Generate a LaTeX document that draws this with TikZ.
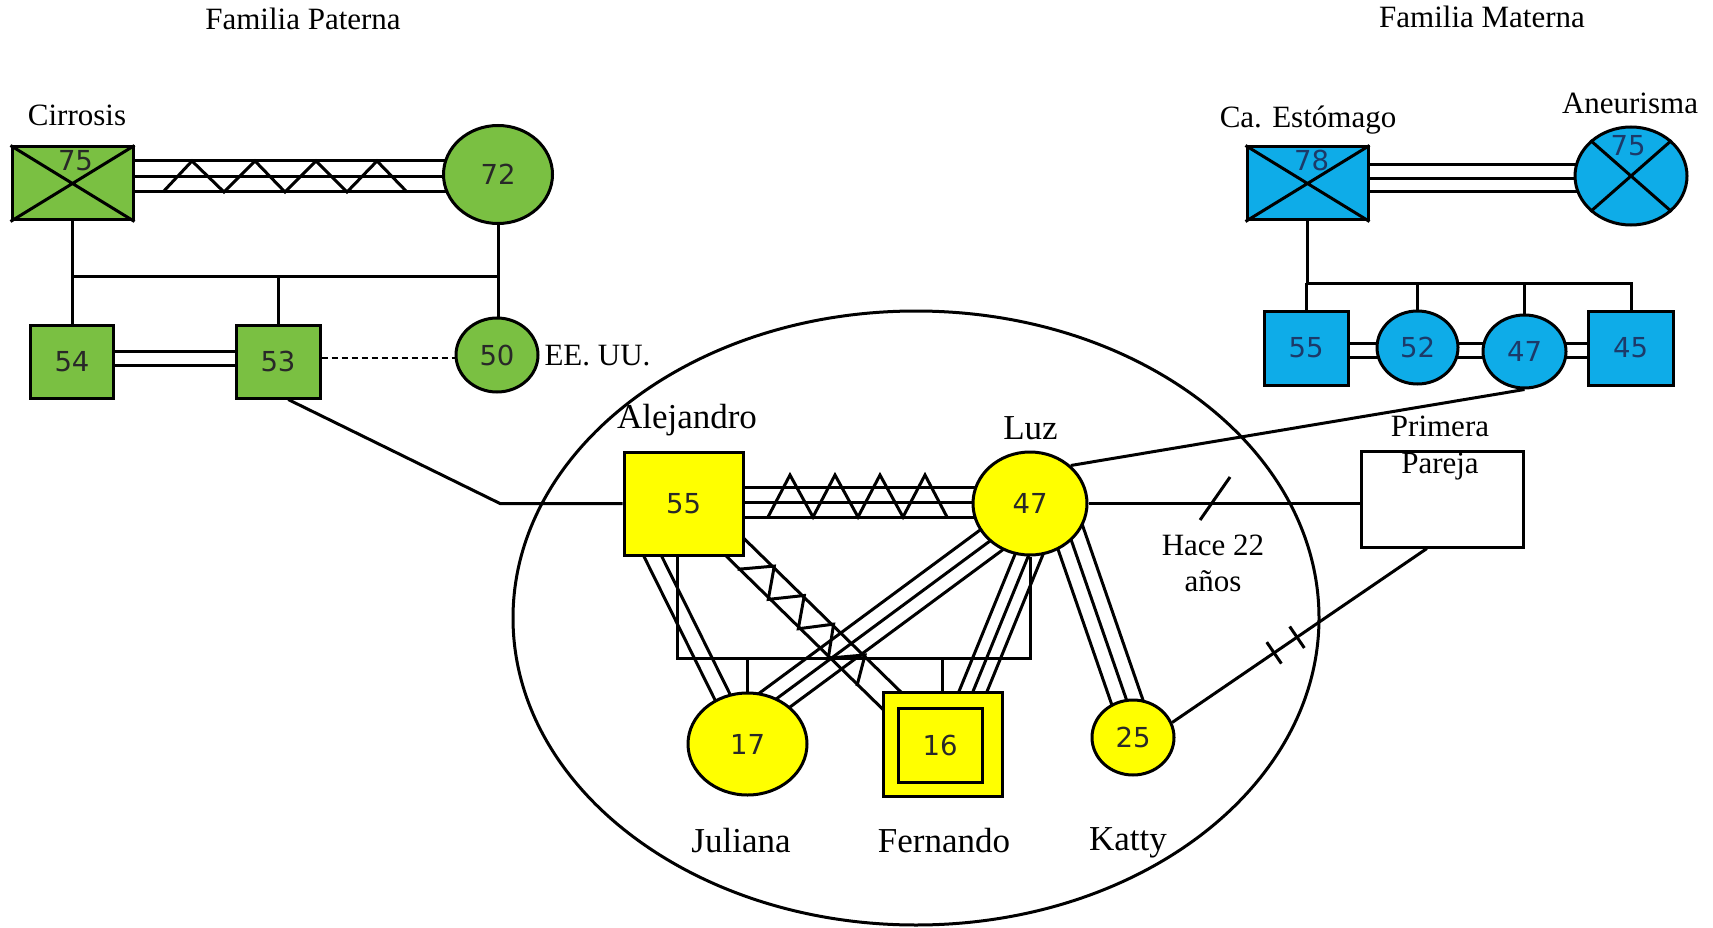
\documentclass[tikz,border=0pt]{standalone}
\usepackage{fontspec}
\setmainfont{Liberation Serif}
\newfontfamily\numfont{DejaVu Sans}
\usetikzlibrary{calc,shapes.geometric,backgrounds}

\definecolor{famgreen}{RGB}{122,192,66}
\definecolor{famblue}{RGB}{14,172,232}
\definecolor{famyellow}{RGB}{255,255,0}
\definecolor{numdark}{RGB}{40,40,40}
\definecolor{numblue}{RGB}{28,58,105}

% parallel relationship lines between two points; #2 = list of offsets (pt)
\newcommand\parlines[4][]{%
  \foreach \o in {#2}{%
    \draw[shorten <=-18pt, shorten >=-18pt, #1]
      ($(#3)!\o pt!90:(#4)$) -- ($(#4)!\o pt!-90:(#3)$);}}

\tikzset{
  box/.style={draw, rectangle, inner sep=0pt},
  oval/.style={draw, ellipse, inner sep=0pt},
  num/.style={font=\numfont\fontsize{27.5}{28}\selectfont, text=numdark},
  numb/.style={font=\numfont\fontsize{27.5}{28}\selectfont, text=numblue},
  lbl/.style={font=\fontsize{31}{31}\selectfont, inner sep=0pt},
  lblbig/.style={font=\fontsize{35}{35}\selectfont, inner sep=0pt},
  thindash/.style={line width=1.4pt, dash pattern=on 6pt off 4pt},
  link/.style={line width=3pt},
}

\begin{document}
\begin{tikzpicture}[x=1pt, y=-1pt, line width=3pt]
\useasboundingbox (0,0) rectangle (1713,928);

% ---------- titles ----------
\node[lbl, anchor=base] (tpat) at (303,29.5) {Familia Paterna};
\node[lbl, anchor=base] (tmat) at (1482,27.7) {Familia Materna};

% ---------- paternal family ----------
\node[box, fill=famgreen, minimum width=121pt, minimum height=73pt] (pgf) at (72.5,183.5) {};
\node[oval, fill=famgreen, minimum width=109pt, minimum height=98pt, num] (pgm) at (498,174.5) {72};
\node[box, fill=famgreen, minimum width=83pt, minimum height=73pt, num] (p54) at (72,361.5) {54};
\node[box, fill=famgreen, minimum width=84pt, minimum height=73pt, num] (p53) at (278,361.5) {53};
\node[oval, fill=famgreen, minimum width=82pt, minimum height=74pt, num] (p50) at (497,355) {50};
\draw (pgf.north west) -- (pgf.south east) (pgf.south west) -- (pgf.north east);
\node[num] (n75p) at ($(pgf.north)+(3,15)$) {75};
\node[lbl, anchor=base] (lcir) at (77,126) {Cirrosis};
\node[lbl, anchor=base west] (lus) at (543,365) {EE. UU.};

% ---------- maternal family ----------
\node[box, fill=famblue, minimum width=121pt, minimum height=73pt] (mgf) at (1307.5,183.5) {};
\node[oval, fill=famblue, minimum width=112pt, minimum height=98pt] (mgm) at (1631,176) {};
\node[box, fill=famblue, minimum width=84pt, minimum height=74pt, numb] (m55) at (1306,348) {55};
\node[oval, fill=famblue, minimum width=81pt, minimum height=73pt, numb] (m52) at (1417.5,347.5) {52};
\node[oval, fill=famblue, minimum width=83pt, minimum height=73pt, numb] (m47) at (1524.5,351.5) {47};
\node[box, fill=famblue, minimum width=85pt, minimum height=74pt, numb] (m45) at (1630.5,348) {45};
\draw (mgf.north west) -- (mgf.south east) (mgf.south west) -- (mgf.north east);
\draw (mgm.north west) -- (mgm.south east) (mgm.south west) -- (mgm.north east);
\node[numb] (n78) at ($(mgf.north)+(4,15)$) {78};
\node[numb] (n75m) at ($(mgm.north)+(-3,20)$) {75};
\node[lbl, anchor=base] (lest) at (1308,128) {Ca. Estómago};
\node[lbl, anchor=base] (lane) at (1630,114) {Aneurisma};

% ---------- nuclear family ----------
\node[draw, ellipse, inner sep=0pt, minimum width=806pt, minimum height=614pt] (nucleo) at (916,618) {};
\node[box, fill=famyellow, minimum width=119pt, minimum height=103pt, num] (alej) at (683.5,503.5) {55};
\node[oval, fill=famyellow, minimum width=114pt, minimum height=103pt, num] (luz) at (1030,503.5) {47};
\node[oval, fill=famyellow, minimum width=119pt, minimum height=102pt, num] (jul) at (747.5,744) {17};
\node[box, fill=famyellow, minimum width=119pt, minimum height=104pt] (fer) at (942.5,744) {};
\node[box, minimum width=84pt, minimum height=74pt, num] (ferin) at (940,745) {16};
\node[oval, fill=famyellow, minimum width=82pt, minimum height=75pt, num] (kat) at (1133,737.5) {25};
\node[box, fill=white, minimum width=162pt, minimum height=96pt] (pp) at (1442,499) {};

\node[lblbig, anchor=base] (lale) at (687,428) {Alejandro};
\node[lblbig, anchor=base] (lluz) at (1030.5,439) {Luz};
\node[lbl, anchor=base] (lpri) at (1440,436.5) {Primera};
\node[lbl, anchor=base] (lpar) at (1440,473) {Pareja};
\node[lbl, anchor=base] (lhace) at (1213,555) {Hace 22};
\node[lbl, anchor=base] (lanos) at (1213,591) {años};
\node[lblbig, anchor=base] (ljul) at (741,852) {Juliana};
\node[lblbig, anchor=base] (lfer) at (944,852) {Fernando};
\node[lblbig, anchor=base] (lkat) at (1128,850) {Katty};

% ---------- connectors ----------
\begin{scope}[on background layer, link]
  % paternal couple (triple line with zigzag)
  \coordinate (pA) at ($(pgf.center)+(0,-7)$);
  \coordinate (pB) at ($(pgm.center)+(0,2)$);
  \parlines[link]{-15.5,0,15.5}{pA}{pB}
  \draw[link] (163,192) -- (192,161) -- (224,192) -- (255,161) -- (285,192)
        -- (316,161) -- (347,192) -- (377,161) -- (407,192);
  % paternal sibship
  \coordinate (psib) at (0,276);
  \draw[link] (pgf.south) -- (pgf.south |- psib) -- (pgm.south |- psib) -- (pgm.south);
  \draw[link] (p54.north |- psib) -- (p54.north);
  \draw[link] (p53.north |- psib) -- (p53.north);
  \draw[link] (pgm.south) -- (pgm.south |- p50.north);
  \coordinate (dA) at ($(p54.center)+(0,-3.5)$);
  \coordinate (dB) at ($(p53.center)+(0,-3.5)$);
  \parlines[link]{-7,7}{dA}{dB}
  \coordinate (dC) at ($(p53.east)+(0,-3.5)$);
  \draw[thindash] (dC) -- (dC -| p50.west);
  % father's line into the nuclear family
  \coordinate (bend) at (500,0);
  \draw[link] (p53.-75) -- (alej.west -| bend) -- (alej.west);

  % maternal couple and sibship
  \coordinate (mA) at ($(mgf.center)+(0,-5)$);
  \coordinate (mB) at ($(mgm.center)+(0,2.5)$);
  \parlines[link]{-13.5,0,13.5}{mA}{mB}
  \coordinate (msib) at (0,283);
  \draw[link] (mgf.south) -- (mgf.south |- msib) -- (mgm.south |- msib) -- (mgm.south |- m45.north);
  \draw[link] (m55.north |- msib) -- (m55.north);
  \draw[link] (m52.north |- msib) -- (m52.north);
  \draw[link] (m47.north |- msib) -- (m47.north);
  \coordinate (mdl) at (0,350);
  \coordinate (mdL) at (m55.center |- mdl);
  \coordinate (mdR) at (m45.center |- mdl);
  \parlines[link]{-7,7}{mdL}{mdR}

  % nuclear couple (triple line with zigzag)
  \coordinate (nA) at ($(alej.center)+(0,-1.5)$);
  \coordinate (nB) at ($(luz.center)+(0,-1.5)$);
  \parlines[link]{-15,0,15}{nA}{nB}
  \draw[link] (768,517) -- (790,475) -- (813,517) -- (835,475) -- (858,517)
        -- (880,475) -- (903,517) -- (925,475) -- (947,517);
  % children bracket
  \coordinate (nsib) at (0,658);
  \coordinate (bl) at ($(alej.south)+(-6.5,0)$);
  \draw[link] (bl) -- (bl |- nsib) -- (luz.south |- nsib) -- (luz.south);
  \draw[link] (jul.north |- nsib) -- (jul.north);
  \draw[link] (fer.north |- nsib) -- (fer.north);
  % parent-child bonds
  \parlines[link]{-8,8}{alej.240}{jul.118}
  \parlines[link]{-12.5,12.5}{alej.south east}{fer.north west}
  \parlines[link]{-14.7,0,14.7}{luz.223}{jul.57}
  \parlines[link]{-13,0,13}{luz.268}{fer.60}
  \parlines[link]{-15.5,0,15.5}{luz.318}{kat.100}
  % other links
  \draw[link] (luz.east) -- coordinate[pos=0.467] (sep) (luz.east -| pp.west);
  \draw[link] (kat.21) -- coordinate[pos=0.40] (dv1) coordinate[pos=0.49] (dv2) (pp.253);
  \draw[link] (luz.43) -- (m47.south);
\end{scope}

% hostile bond zigzag between father and son
\begin{scope}[shift={(alej.south east)}, rotate=-44.4, x=1pt, y=1pt]
  \draw[link] (4,-14) -- (28,14) -- (47,-14) -- (70,14) -- (89,-14) -- (111,14)
        -- (131,-14) -- (155,14) -- (171,-14);
\end{scope}

% separation and divorce marks
\draw[link] ($(sep)+(-15,16.5)$) -- ($(sep)+(15,-26.5)$);
\draw[link] ($(dv1)!13pt!90:(pp.253)$) -- ($(dv1)!13pt!-90:(pp.253)$);
\draw[link] ($(dv2)!13pt!90:(pp.253)$) -- ($(dv2)!13pt!-90:(pp.253)$);
\end{tikzpicture}
\end{document}
